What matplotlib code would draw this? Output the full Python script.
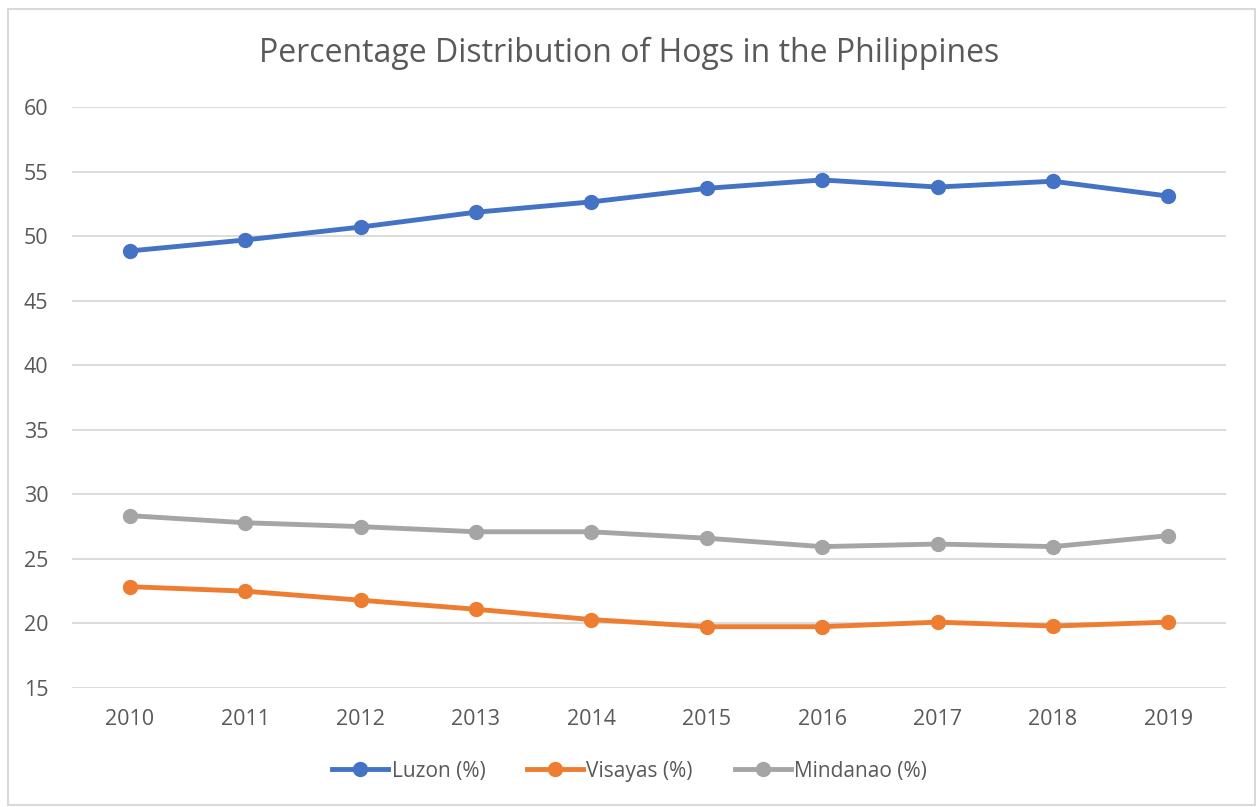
import matplotlib.pyplot as plt
from matplotlib.patches import Rectangle

years = ["2010", "2011", "2012", "2013", "2014", "2015", "2016", "2017", "2018", "2019"]
luzon = [48.85, 49.7, 50.7, 51.85, 52.65, 53.7, 54.35, 53.8, 54.25, 53.1]
visayas = [22.85, 22.5, 21.8, 21.1, 20.3, 19.75, 19.75, 20.1, 19.8, 20.1]
mindanao = [28.35, 27.8, 27.5, 27.1, 27.1, 26.6, 25.95, 26.15, 25.95, 26.8]

plt.rcParams['font.family'] = ['Open Sans', 'DejaVu Sans']
txt = "#595959"

fig = plt.figure(figsize=(12.59, 8.07), dpi=100)
ax = fig.add_axes([72/1259, 1-688/807, (1226-72)/1259, (688-107)/807])

fig.patches.append(Rectangle((8/1259, 2/807), 1247/1259, 1-11/807, transform=fig.transFigure,
                             fill=False, edgecolor="#D9D9D9", linewidth=1.5))

x = range(len(years))
ax.plot(x, luzon, color="#4472C4", lw=3.5, marker="o", ms=10, label="Luzon (%)")
ax.plot(x, visayas, color="#ED7D31", lw=3.5, marker="o", ms=10, label="Visayas (%)")
ax.plot(x, mindanao, color="#A5A5A5", lw=3.5, marker="o", ms=10, label="Mindanao (%)")

ax.set_xlim(-0.5, 9.5)
ax.set_ylim(15, 60)
ax.set_yticks(range(15, 61, 5))
ax.set_xticks(list(x))
ax.set_xticklabels(years)
ax.grid(axis="y", color="#D9D9D9", lw=1.3)
ax.set_axisbelow(True)
for s in ax.spines.values():
    s.set_visible(False)
ax.tick_params(length=0, colors=txt, labelsize=15.5)
ax.tick_params(axis="y", pad=17)
ax.tick_params(axis="x", pad=15)

fig.text(0.5, 1-53/807, "Percentage Distribution of Hogs in the Philippines",
         ha="center", va="center", fontsize=23, color=txt)
leg = fig.legend(loc="center", bbox_to_anchor=(0.5, 1-771/807), ncol=3, frameon=False,
                 fontsize=15, handlelength=2.7, handletextpad=0.15, columnspacing=2.0)
for t in leg.get_texts():
    t.set_color(txt)

fig.savefig("out.png", dpi=100)
